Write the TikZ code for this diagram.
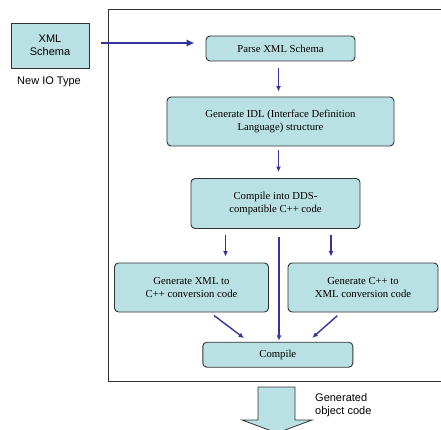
\documentclass[tikz,border=0pt]{standalone}
\usepackage{fontspec}
\setmainfont{Liberation Serif}
\setsansfont{Liberation Sans}
\usetikzlibrary{arrows.meta}

\definecolor{boxfill}{HTML}{B9E0E2}
\definecolor{flowblue}{HTML}{34349C}
\definecolor{edgegray}{HTML}{333333}

\tikzset{
  stepbox/.style={draw=edgegray, line width=0.9pt, fill=boxfill, rounded corners=4pt,
    align=center, inner sep=0pt, font=\fontsize{10.7}{12.5}\selectfont},
  flow/.style={draw=flowblue, line width=1.4pt, -{Latex[length=5.5pt,width=5pt]}},
  bigflow/.style={draw=flowblue, line width=2.6pt, -{Latex[length=8pt,width=7.5pt]}},
  sanstext/.style={font=\sffamily\fontsize{11}{13}\selectfont, align=center, inner sep=0pt}
}

\begin{document}
\begin{tikzpicture}[x=1pt,y=-1pt]
        \clip (0,0) rectangle (441,430);
        \fill[white] (0,0) rectangle (441,430);

        % Outer frame (runs past the right edge)
        \draw[edgegray, line width=0.9pt] (460,9) -- (108,9) -- (108,381) -- (460,381);

        % Input type
        \node[draw=edgegray, line width=0.9pt, fill=boxfill, minimum width=78pt, minimum height=45pt,
              sanstext] (schema) at (50,45.5) {XML\\Schema};
        \node[sanstext] (iotype) at (49,82) {New IO Type};

        % Steps
        \node[stepbox, minimum width=149pt, minimum height=25pt] (parse) at (280.5,48.5) {Parse XML Schema};
        \node[stepbox, minimum width=227pt, minimum height=49pt] (idl) at (280.5,121.5)
              {Generate IDL (Interface Definition\\Language) structure};
        \node[stepbox, minimum width=169pt, minimum height=50pt] (dds) at (275.5,203.5)
              {Compile into DDS-\\compatible C++ code};
        \node[stepbox, minimum width=154pt, minimum height=49pt] (genxml) at (191.5,287.5)
              {Generate XML to\\C++ conversion code};
        \node[stepbox, minimum width=150pt, minimum height=49pt] (gencpp) at (363,287.5)
              {Generate C++ to\\XML conversion code};
        \node[stepbox, minimum width=150pt, minimum height=25pt] (compile) at (277.8,354.7) {Compile};

        % Connectors
        \draw[bigflow, shorten <=12pt, shorten >=11pt] ([yshift=2.5pt]schema.east) -- ([yshift=2.5pt]schema.east -| parse.west);
        \draw[flow, shorten <=7pt, shorten >=5pt] ([xshift=-2pt]parse.south) -- ([xshift=-2pt]idl.north);
        \draw[flow, shorten <=4pt, shorten >=6pt] ([xshift=-2pt]idl.south) -- ([xshift=-2pt]idl.south |- dds.north);
        \draw[flow, shorten <=6pt, shorten >=6pt] ([xshift=-50pt]dds.south) -- ([xshift=-50pt]dds.south |- genxml.north);
        \draw[flow, shorten <=6pt, shorten >=6pt] ([xshift=55.5pt]dds.south) -- ([xshift=55.5pt]dds.south |- gencpp.north);
        \draw[flow, shorten <=8pt, shorten >=1pt] ([xshift=3.5pt]dds.south) -- ([xshift=3.5pt]dds.south |- compile.north);
        \draw[flow, shorten <=5pt, shorten >=6pt] ([xshift=18.5pt]genxml.south) -- ([xshift=-29pt]compile.north);
        \draw[flow, shorten <=5pt, shorten >=6pt] ([xshift=-22pt]gencpp.south) -- ([xshift=30pt]compile.north);

        % Output block arrow
        \draw[edgegray, line width=0.8pt, fill=boxfill]
              (258,387) -- (295,387) -- (295,420) -- (312,420) -- (277,433) -- (242,420) -- (258,420) -- cycle;
        \node[sanstext, anchor=west, align=left] (objcode) at (315,405) {Generated\\object code};
\end{tikzpicture}
\end{document}
